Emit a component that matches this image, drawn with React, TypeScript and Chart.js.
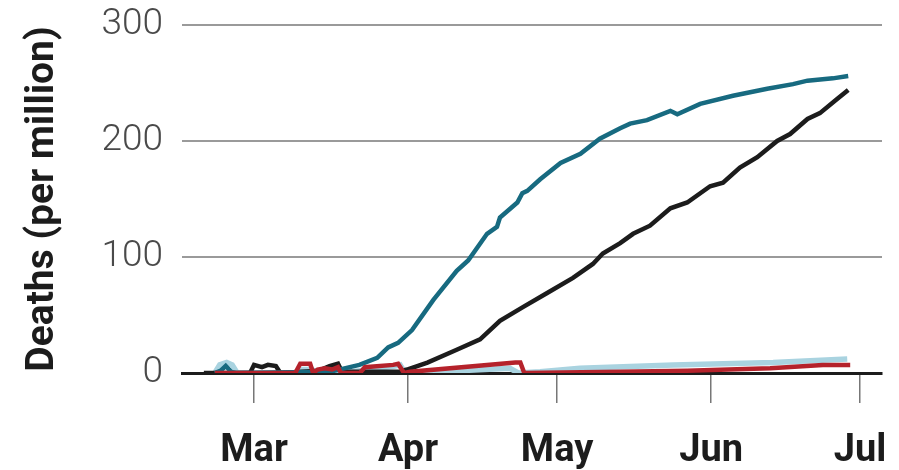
import React, { useEffect, useRef } from "react";
import { Chart, registerables } from "chart.js";

Chart.register(...registerables);

// Days counted from March 1 (day 0)
const monthLabels = ["Mar", "Apr", "May", "Jun", "Jul"];
const monthDays = [0, 31, 61, 92, 122];
const yTicks = [0, 100, 200, 300];

const tealDays = [-7.9, -6.7, -5.7, -4.6, -3.6, 15.2, 18.2, 21.2, 24.8, 27, 29, 31.8, 36.1, 40.8, 43.1, 46.9, 48.9, 49.5, 53, 54, 55, 57.6, 61.7, 65.7, 69.6, 73.7, 75.7, 79.1, 83.8, 85.2, 89.8, 96.4, 103.3, 108.5, 111.4, 116.5, 119.6];
const tealValues = [0, 2, 6, 1, 0, 1, 4, 7, 13, 22, 26, 37, 63, 88, 97, 120, 126, 134, 147, 155, 157, 167, 181, 189, 202, 211, 215, 218, 226, 223, 232, 239, 245, 249, 252, 254, 256];

const blackDays = [-10.1, -0.8, 0, 1.6, 2.8, 4.4, 5.3, 13.1, 15.2, 16.9, 17.7, 29.3, 30.8, 34.9, 40.8, 45.5, 49.5, 54.2, 59, 64.2, 68.2, 70.2, 73.7, 76.3, 79.7, 83.8, 87.2, 91.8, 94.4, 97.8, 101.3, 105.3, 107.9, 111.4, 113.9, 117.3, 119.6];
const blackValues = [0, 0, 7, 5, 7, 6, 0, 2, 6, 8, 1, 1, 3, 9, 20, 29, 45, 57, 69, 82, 94, 103, 112, 120, 127, 142, 147, 161, 164, 177, 186, 200, 206, 219, 224, 236, 244];

const redDays = [-7.9, 8.3, 9.3, 11.3, 11.9, 12.8, 14.3, 15.7, 16.9, 17.5, 21.3, 22.3, 28, 29, 30.2, 31.4, 52.6, 53.6, 54.4, 73.7, 87.2, 103.9, 114.5, 120];
const redValues = [0, 0, 8, 8, 0, 3, 4, 3, 5, 0, 0, 5, 7, 8, 0, 1, 9, 9, 0, 1, 2, 4, 7, 7];

const lightDays = [-7.9, -6.9, -5.5, -4.4, -3.4, 8.3, 9.7, 11.7, 12.5, 17.3, 21.3, 28.4, 29.4, 30.4, 31.4, 51.5, 53.2, 57.6, 65.6, 84.4, 104.5, 119.4];
const lightValues = [0, 7, 9, 7, 0, 0, 3, 3, 0, 0, 2, 6, 7, 0, 0, 4, 0, 1, 4, 7, 9, 12];

const toPoints = (xs: number[], ys: number[]) => xs.map((x, i) => ({ x, y: ys[i] }));

export default function App() {
  const canvasRef = useRef<HTMLCanvasElement | null>(null);

  useEffect(() => {
    if (!canvasRef.current) return;
    const condensed = "'Liberation Sans Narrow', 'Roboto', sans-serif";
    const chart = new Chart(canvasRef.current, {
      type: "line",
      data: {
        datasets: [
          {
            label: "Red",
            data: toPoints(redDays, redValues),
            borderColor: "#b5222b",
            borderWidth: 4.5,
            pointRadius: 0,
            order: 0,
          },
          {
            label: "Teal",
            data: toPoints(tealDays, tealValues),
            borderColor: "#176a80",
            borderWidth: 4.5,
            pointRadius: 0,
            order: 1,
          },
          {
            label: "Black",
            data: toPoints(blackDays, blackValues),
            borderColor: "#1c1c1c",
            borderWidth: 4.5,
            pointRadius: 0,
            order: 2,
          },
          {
            label: "Light blue",
            data: toPoints(lightDays, lightValues),
            borderColor: "#a9d3e0",
            borderWidth: 5.5,
            pointRadius: 0,
            order: 3,
          },
        ],
      },
      options: {
        animation: false,
        responsive: true,
        maintainAspectRatio: false,
        layout: { padding: { left: 0, top: 25, right: 17, bottom: 0 } },
        plugins: { legend: { display: false }, tooltip: { enabled: false } },
        scales: {
          x: {
            type: "linear",
            min: -14.5,
            max: 126.4,
            afterBuildTicks: (scale: any) => {
              scale.ticks = monthDays.map((v) => ({ value: v }));
            },
            afterFit: (scale: any) => {
              scale.height = 97;
              scale.paddingLeft = 0;
              scale.paddingRight = 0;
            },
            grid: {
              drawOnChartArea: false,
              drawTicks: true,
              tickLength: 30,
              color: "#777",
              lineWidth: 1.5,
            },
            border: { display: true, color: "#1c1c1c", width: 3 },
            ticks: {
              autoSkip: false,
              maxRotation: 0,
              padding: 26,
              color: "#1c1c1c",
              font: { family: condensed, weight: "bold", size: 38 },
              callback: (v: any) => {
                const i = monthDays.indexOf(Number(v));
                return i >= 0 ? monthLabels[i] : "";
              },
            },
          },
          y: {
            type: "linear",
            min: 0,
            max: 300,
            afterBuildTicks: (scale: any) => {
              scale.ticks = yTicks.map((v) => ({ value: v }));
            },
            afterFit: (scale: any) => {
              scale.width = 182;
              scale.paddingTop = 0;
              scale.paddingBottom = 0;
            },
            grid: { drawTicks: false, color: "#9a9a9a", lineWidth: 2 },
            border: { display: false },
            ticks: {
              padding: 19,
              color: "#4a4a4a",
              font: { family: "Roboto, sans-serif", weight: "300", size: 37 },
            },
            title: {
              display: true,
              text: "Deaths (per million)",
              color: "#1c1c1c",
              padding: { top: 20, bottom: 0 },
              font: { family: condensed, weight: "bold", size: 39 },
            },
          },
        },
      },
    });
    return () => chart.destroy();
  }, []);

  return (
    <div style={{ position: "fixed", left: 0, top: 0, width: 899, height: 470, background: "#fff" }}>
      <canvas ref={canvasRef} />
    </div>
  );
}
